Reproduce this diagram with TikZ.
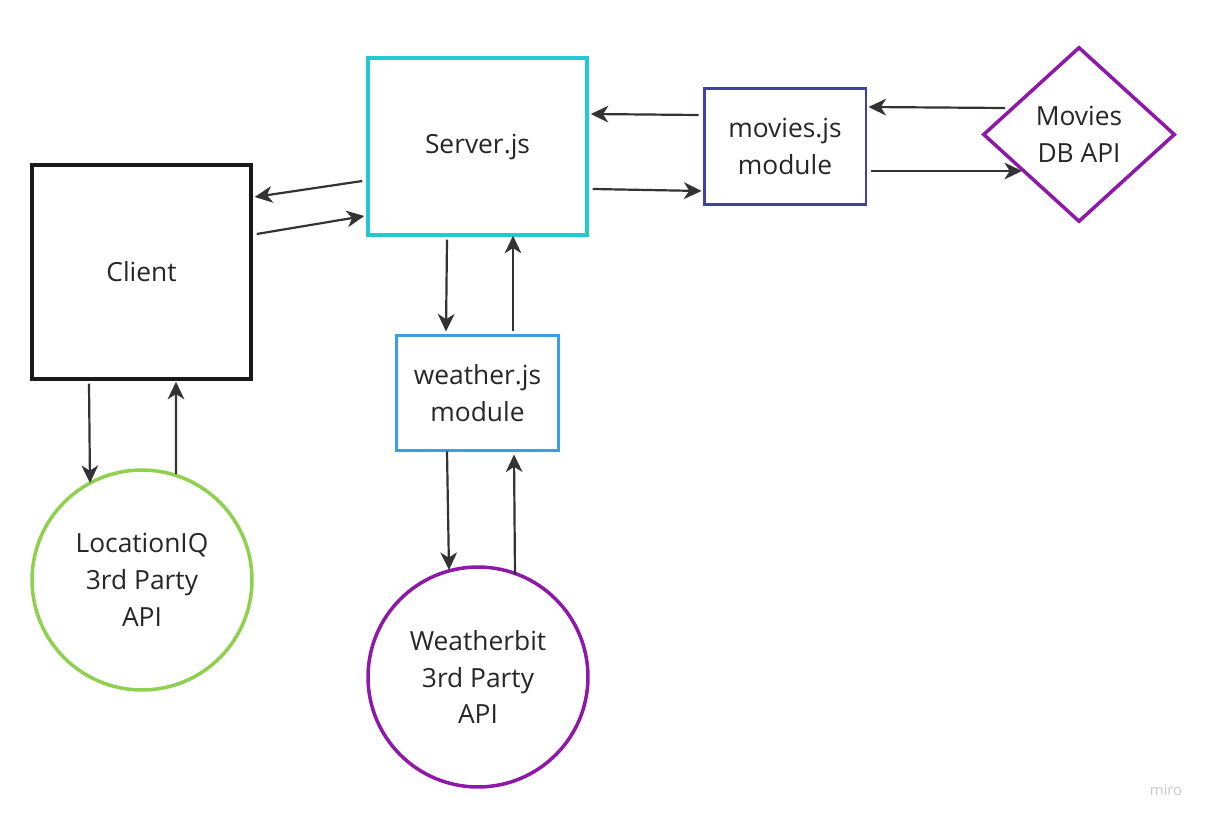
\documentclass[tikz,border=0pt]{standalone}
\usepackage{fontspec}
\setmainfont{Open Sans}
\usetikzlibrary{arrows.meta,shapes.geometric}
\definecolor{txt}{HTML}{262626}
\definecolor{arr}{HTML}{333333}
\definecolor{cyanc}{HTML}{22C8D2}
\definecolor{indigoc}{HTML}{4040A8}
\definecolor{bluec}{HTML}{3A9DE6}
\definecolor{greenc}{HTML}{8FD14F}
\definecolor{purplec}{HTML}{8E19A8}
\definecolor{miroc}{HTML}{C8C8D2}
\tikzset{
  lbl/.style={font=\fontsize{15}{21}\selectfont, text=txt, align=center, inner sep=0pt},
  boxnode/.style={lbl, draw, rectangle},
  circnode/.style={lbl, draw=greenc, circle, line width=2pt, minimum size=4.4cm},
  link/.style={draw=arr, line width=1.25pt, -{Stealth[length=10pt,width=9.5pt,inset=3pt]}}
}
\begin{document}
\begin{tikzpicture}[x=0.02cm,y=-0.02cm]
\useasboundingbox (0,0) rectangle (1213,824);
\node[boxnode, draw=black!90, line width=2pt, minimum width=4.38cm, minimum height=4.28cm] (client) at (141.5,272) {Client};
\node[boxnode, draw=cyanc, line width=2pt, minimum width=4.38cm, minimum height=3.54cm] (server) at (477.5,146.5) {Server.js};
\node[boxnode, draw=indigoc, line width=1.7pt, minimum width=3.24cm, minimum height=2.34cm] (movies) at (785,146.5) {movies.js\\module};
\node[boxnode, draw=bluec, line width=1.7pt, minimum width=3.26cm, minimum height=2.32cm] (weather) at (477.5,393) {weather.js\\module};
\node[lbl, draw=purplec, diamond, line width=2pt, minimum width=3.84cm, minimum height=3.5cm] (mdb) at (1079,134.5) {Movies\\DB API};
\node[circnode, draw=greenc] (loc) at (142,580) {LocationIQ\\3rd Party\\API};
\node[circnode, draw=purplec] (wb) at (478,677) {Weatherbit\\3rd Party\\API};
\node[font=\fontsize{8.5}{10}\selectfont, text=miroc, inner sep=0pt] (miro) at (1166,790) {miro};

\draw[link] ([shift={(-4,34.5)}]server.west) -- ([shift={(2,-75)}]client.east);
\draw[link] ([shift={(4,-38)}]client.east) -- ([shift={(-2,69.5)}]server.west);
\draw[link] ([shift={(-4,-31.5)}]movies.west) -- ([shift={(2,-32.5)}]server.east);
\draw[link] ([shift={(4,42.5)}]server.east) -- ([shift={(-1,44.5)}]movies.west);
\draw[link] ([shift={(-74,-26.5)}]mdb.center) -- ([shift={(1,-39.5)}]movies.east);
\draw[link] ([shift={(4,24.5)}]movies.east) -- ([shift={(-57,36.5)}]mdb.center);
\draw[link] ([shift={(-30.5,3)}]server.south) -- ([shift={(-31.5,-2)}]weather.north);
\draw[link] ([shift={(35.5,-3)}]weather.north) -- ([shift={(35.5,-1)}]server.south);
\draw[link] ([shift={(-52.5,3)}]client.south) -- ([shift={(-52,-97)}]loc.center);
\draw[link] ([shift={(34,-106)}]loc.center) -- ([shift={(34.5,1)}]client.south);
\draw[link] ([shift={(-30.5,-1)}]weather.south) -- ([shift={(-29,-107)}]wb.center);
\draw[link] ([shift={(37,-102)}]wb.center) -- ([shift={(36.5,2)}]weather.south);
\end{tikzpicture}
\end{document}
